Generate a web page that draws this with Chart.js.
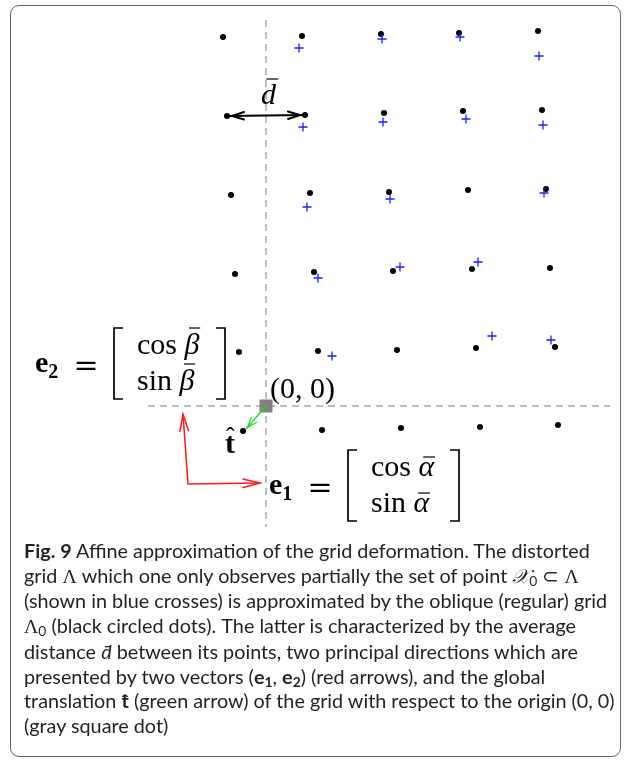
<!DOCTYPE html>
<html>
<head>
<meta charset="utf-8">
<script src="https://cdn.jsdelivr.net/npm/chart.js@4.4.0/dist/chart.umd.min.js"></script>
<style>
  html, body { margin: 0; padding: 0; background: #fff; }
  #wrap { position: relative; width: 633px; height: 763px; overflow: hidden; }
  #frame { position: absolute; left: 10px; top: 5px; width: 611px; height: 752px;
           border: 1px solid #666; border-radius: 9px; box-sizing: border-box; }
  #plot { position: absolute; left: 0; top: 0; }
  #caption { position: absolute; left: 24px; top: 538px; font-family: Lato, sans-serif;
             font-size: 19.8px; line-height: 24.7px; color: #231f20; white-space: nowrap; }
  #caption b { font-weight: 700; }
  #caption sub { font-size: 0.7em; vertical-align: -0.25em; line-height: 0; }
  .m { font-family: "Liberation Serif", serif; }
</style>
</head>
<body>
<div id="wrap">
  <div id="frame"></div>
  <canvas id="plot" width="633" height="763"></canvas>
  <div id="caption">
    <div><b>Fig. 9</b> Affine approximation of the grid deformation. The distorted</div>
    <div>grid <span class="m">Λ</span> which one only observes partially the set of point <span class="m"><i>𝒳</i></span><sub>0</sub> <span class="m">⊂ Λ</span></div>
    <div>(shown in blue crosses) is approximated by the oblique (regular) grid</div>
    <div><span class="m">Λ</span><sub>0</sub> (black circled dots). The latter is characterized by the average</div>
    <div>distance <i>d̄</i> between its points, two principal directions which are</div>
    <div>presented by two vectors (<b>e<sub>1</sub></b>, <b>e<sub>2</sub></b>) (red arrows), and the global</div>
    <div>translation <b>t̂</b> (green arrow) of the grid with respect to the origin (0, 0)</div>
    <div>(gray square dot)</div>
  </div>
</div>
<script>
// Oblique grid Λ0 (black dots), row by row from the top, origin at the gray square
const dotsX = [-43, 36, 115, 193, 272,
               -39, 39, 118, 197, 276,
               -35, 44, 123, 202, 280,
               -31, 48, 127, 206, 284,
               -27, 52, 131, 210, 289,
               -23, 56, 135, 214, 292];
const dotsY = [369, 370, 372, 373, 375,
               290, 291, 293, 295, 296,
               211, 213, 214, 216, 217,
               132, 134, 135, 137, 138,
                54,  55,  56,  58,  59,
               -25, -24, -22, -21, -19];

// Observed points X0 (blue crosses)
const crossX = [33, 116, 194, 273,
                37, 117, 200, 277,
                41, 124, 278,
                52, 134, 212,
                66, 226, 285];
const crossY = [358, 367, 369, 350,
                279, 284, 287, 281,
                199, 207, 213,
                128, 139, 144,
                 50,  70,  66];

// Reference axes through the origin (dashed)
const axisH = [[-118, 0], [344, 0]];
const axisV = [[0, 386], [0, -121]];
const origin = [[0, 0]];

// Vectors: translation t (green), principal directions e1/e2 (red), spacing d (black)
const translation = [[0, 0], [-20, -23]];
const directions = [[-83, -8], [-78, -78], [-6, -77]];
const spacing = [[-39, 290], [39, 291]];

const pts = (arr) => arr.map(([x, y]) => ({ x, y }));
const zipPts = (xs, ys) => xs.map((x, i) => ({ x, y: ys[i] }));

const SERIF = '"Liberation Serif", serif';

// open "V" arrow heads at the ends of line datasets
const arrowHeads = {
  id: 'arrowHeads',
  afterDatasetsDraw(chart) {
    const ctx = chart.ctx;
    chart.data.datasets.forEach((ds, i) => {
      if (!ds.heads) return;
      const el = chart.getDatasetMeta(i).data;
      const h = ds.heads;
      const head = (tip, from) => {
        const dx = tip.x - from.x, dy = tip.y - from.y, L = Math.hypot(dx, dy);
        const ux = dx / L, uy = dy / L;
        const tx = tip.x - ux * h.inset, ty = tip.y - uy * h.inset;
        const bx = tx - ux * h.len, by = ty - uy * h.len;
        ctx.beginPath();
        ctx.moveTo(bx - uy * h.half, by + ux * h.half);
        ctx.lineTo(tx, ty);
        ctx.lineTo(bx + uy * h.half, by - ux * h.half);
        ctx.stroke();
      };
      ctx.save();
      ctx.strokeStyle = ds.borderColor;
      ctx.lineWidth = ds.borderWidth;
      ctx.lineJoin = 'miter';
      ctx.lineCap = 'round';
      if (h.start) head(el[0], el[1]);
      if (h.end) head(el[el.length - 1], el[el.length - 2]);
      ctx.restore();
    });
  }
};

// mathematical annotations, anchored in data coordinates
const annotations = {
  id: 'annotations',
  afterDraw(chart) {
    const ctx = chart.ctx;
    const sx = chart.scales.x, sy = chart.scales.y;
    const P = (x, y) => ({ x: sx.getPixelForValue(x), y: sy.getPixelForValue(y) });
    ctx.save();
    ctx.fillStyle = '#000';
    ctx.strokeStyle = '#000';
    ctx.textBaseline = 'alphabetic';
    ctx.textAlign = 'left';

    const text = (s, x, y, font) => { ctx.font = font; ctx.fillText(s, x, y); return ctx.measureText(s).width; };
    const bar = (x0, x1, y) => { ctx.save(); ctx.lineWidth = 1.2; ctx.beginPath(); ctx.moveTo(x0, y); ctx.lineTo(x1, y); ctx.stroke(); ctx.restore(); };
    const bracket = (x, top, bottom, dir) => {
      ctx.save(); ctx.lineWidth = 1.7; ctx.lineJoin = 'miter';
      ctx.beginPath();
      ctx.moveTo(x + dir * 9, top); ctx.lineTo(x, top); ctx.lineTo(x, bottom); ctx.lineTo(x + dir * 9, bottom);
      ctx.stroke(); ctx.restore();
    };

    // spacing label  d̄
    let a = P(-5, 302);
    let w = text('d', a.x, a.y, 'italic 30px ' + SERIF);
    bar(a.x + w * 0.35, a.x + w * 1.15, a.y - 25);

    // origin label
    a = P(4, 8);
    text('(0, 0)', a.x, a.y, '30px ' + SERIF);

    // translation label  t̂
    a = P(-41, -47);
    w = text('t', a.x, a.y, 'bold 30px ' + SERIF);
    text('\u02C6', a.x + 1, a.y - 8, '26px ' + SERIF);

    // direction vectors  e = [cos θ̄ ; sin θ̄]
    const vector = (ax, ay, sub, sym) => {
      const o = P(ax, ay);
      const ew = text('e', o.x, o.y, 'bold 30px ' + SERIF);
      text(sub, o.x + ew, o.y + 6, 'bold 20px ' + SERIF);
      ctx.textAlign = 'center';
      text('=', o.x + 51, o.y + 3, '30px "DejaVu Serif", serif');
      ctx.textAlign = 'left';
      bracket(o.x + 79, o.y - 44, o.y + 27, 1);
      bracket(o.x + 190, o.y - 44, o.y + 27, -1);
      const rows = [['cos', o.y - 18], ['sin', o.y + 18]];
      rows.forEach(([fn, by]) => {
        const fw = text(fn + ' ', o.x + 102, by, '30px ' + SERIF);
        const gx = o.x + 102 + fw;
        const gw = text(sym, gx, by, 'italic 30px ' + SERIF);
        const top = sym === 'β' ? by - 26 : by - 19;
        bar(gx + gw * 0.3, gx + gw * 1.05, top);
      });
    };
    vector(-231, 34, '2', 'β');
    vector(3, -88, '1', 'α');
    ctx.restore();
  }
};

new Chart(document.getElementById('plot'), {
  type: 'scatter',
  data: {
    datasets: [
      { label: 'X0', data: zipPts(crossX, crossY), pointStyle: 'cross', pointRadius: 4.5,
        borderColor: '#1f1fff', borderWidth: 1.3, showLine: false },
      { label: 'Λ0', data: zipPts(dotsX, dotsY), pointStyle: 'circle', pointRadius: 3,
        backgroundColor: '#000', borderWidth: 0, showLine: false },
      { label: 't', data: pts(translation), showLine: true, pointRadius: 0,
        borderColor: '#1fdc1f', borderWidth: 1.3, heads: { end: true, len: 10, half: 3.5, inset: 2 } },
      { label: 'origin', data: pts(origin), pointStyle: 'rect', pointRadius: 9.2,
        backgroundColor: '#808080', borderWidth: 0, showLine: false },
      { label: 'e1/e2', data: pts(directions), showLine: true, pointRadius: 0,
        borderColor: '#ff1a1a', borderWidth: 1.5, heads: { start: true, end: true, len: 17, half: 4.3, inset: 0 } },
      { label: 'd', data: pts(spacing), showLine: true, pointRadius: 0,
        borderColor: '#000', borderWidth: 2, heads: { start: true, end: true, len: 12, half: 3.8, inset: 5 } },
      { label: 'h-axis', data: pts(axisH), showLine: true, pointRadius: 0,
        borderColor: '#a8a8a8', borderWidth: 1.5, borderDash: [7, 5] },
      { label: 'v-axis', data: pts(axisV), showLine: true, pointRadius: 0,
        borderColor: '#a8a8a8', borderWidth: 1.5, borderDash: [7, 5] }
    ]
  },
  options: {
    responsive: false,
    animation: false,
    events: [],
    layout: { padding: 0, autoPadding: false },
    scales: {
      x: { type: 'linear', min: -266, max: 367, display: false },
      y: { type: 'linear', min: -357, max: 406, display: false }
    },
    plugins: { legend: { display: false }, tooltip: { enabled: false } }
  },
  plugins: [arrowHeads, annotations]
});
</script>
</body>
</html>
